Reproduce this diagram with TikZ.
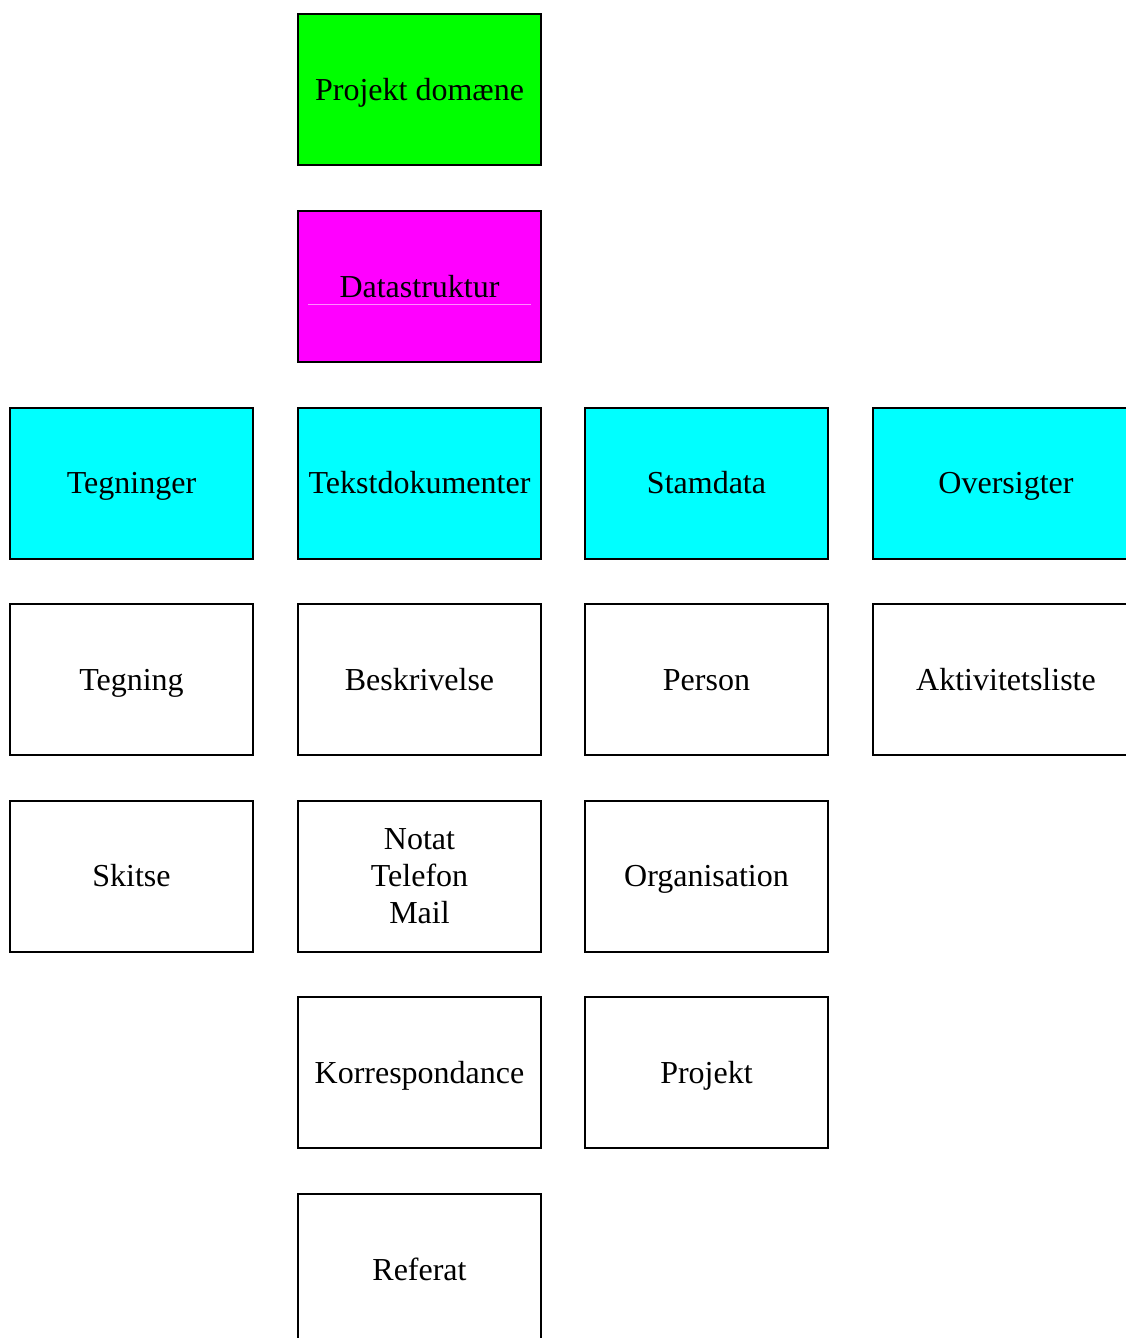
\documentclass[tikz,border=0pt]{standalone}
\usepackage{fontspec}
\setmainfont{Liberation Serif}
\definecolor{domgreen}{RGB}{0,255,0}
\definecolor{structmag}{RGB}{255,0,255}
\definecolor{groupcyan}{RGB}{0,255,255}
\tikzset{
  boxbase/.style={draw=black, line width=2pt, minimum width=243pt, minimum height=151pt,
    inner sep=0pt, align=center, font=\fontsize{32}{37}\selectfont},
  box/.style={boxbase, text height=21pt, text depth=0pt},
  domainbox/.style={box, fill=domgreen},
  structbox/.style={box, fill=structmag},
  groupbox/.style={box, fill=groupcyan},
  itembox/.style={box, fill=white},
  multibox/.style={boxbase, fill=white},
}
\begin{document}
\begin{tikzpicture}[x=1pt, y=-1pt]
  \useasboundingbox (0,0) rectangle (1126,1338);
  \clip (0,0) rectangle (1126,1338);
  % column centres: 131.5, 419.5, 706.5; the last column runs off the right edge
  \node[domainbox] (dom) at (419.5,89.5) {Projekt domæne};
  \node[structbox] (struct) at (419.5,286.5) {Datastruktur};
  \draw[structmag!45!white, line width=0.7pt] (308,304.5) -- (531,304.5);

  \node[groupbox] (tegninger) at (131.5,483) {Tegninger};
  \node[groupbox] (tekst) at (419.5,483) {Tekstdokumenter};
  \node[groupbox] (stamdata) at (706.5,483) {Stamdata};
  \node[groupbox, minimum width=267pt] (oversigter) at (1006,483) {Oversigter};

  \node[itembox] (tegning) at (131.5,679.5) {Tegning};
  \node[itembox] (beskrivelse) at (419.5,679.5) {Beskrivelse};
  \node[itembox] (person) at (706.5,679.5) {Person};
  \node[itembox, minimum width=267pt] (aktiv) at (1006,679.5) {Aktivitetsliste};

  \node[itembox] (skitse) at (131.5,876) {Skitse};
  \node[multibox] (notat) at (419.5,876) {Notat\\Telefon\\Mail};
  \node[itembox] (org) at (706.5,876) {Organisation};

  \node[itembox] (korr) at (419.5,1072.5) {Korrespondance};
  \node[itembox] (projekt) at (706.5,1072.5) {Projekt};

  \node[itembox] (referat) at (419.5,1269.5) {Referat};
\end{tikzpicture}
\end{document}
